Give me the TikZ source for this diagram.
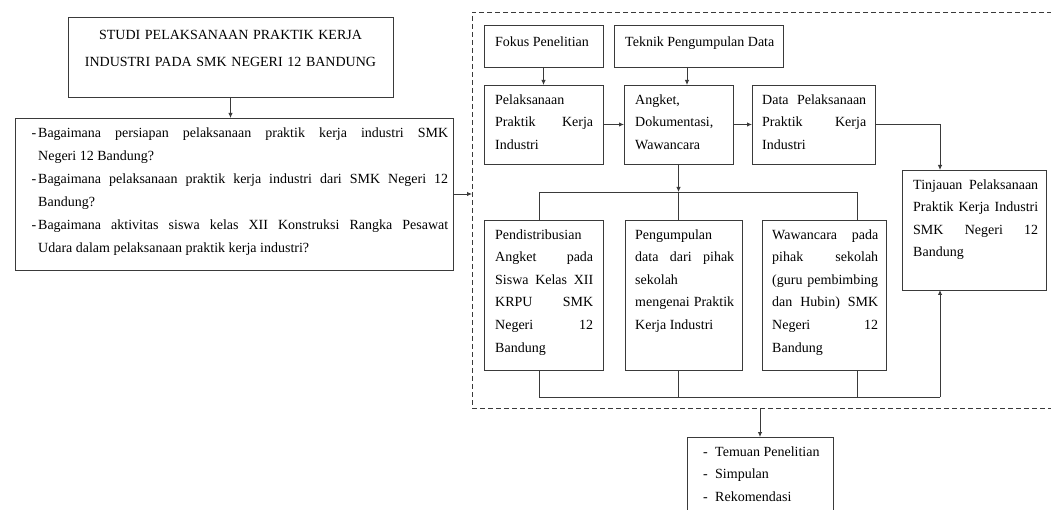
\documentclass[tikz,border=0pt]{standalone}
\usepackage{fontspec}
\setmainfont{Liberation Serif}
\usetikzlibrary{arrows.meta,calc}
\definecolor{linec}{HTML}{3A3A3A}
\hyphenpenalty=10000
\exhyphenpenalty=10000
\tolerance=10000
\hbadness=10000
\hfuzz=4pt
\setlength\parindent{0pt}
\newcommand{\itemdash}{\leavevmode\llap{-\hspace{2pt}}}
\begin{document}
\begin{tikzpicture}[x=1pt,y=-1pt,
  box/.style={draw=linec, line width=0.9pt, anchor=north west, inner sep=0pt, outer sep=0pt},
  txt/.style={anchor=north west, inner sep=0pt, align=justify, font=\fontsize{14}{22.6}\selectfont, text=black},
  lbl/.style={anchor=north west, inner sep=0pt, align=left, font=\fontsize{14}{22.6}\selectfont, text=black},
  conn/.style={draw=linec, line width=0.9pt},
  arr/.style={conn, -{Latex[length=5pt,width=4.5pt]}},
  dashedframe/.style={draw=linec, line width=0.9pt, dash pattern=on 5pt off 3pt, anchor=north west, inner sep=0pt, outer sep=0pt}
]
\useasboundingbox (0,0) rectangle (1051,510);
\clip (0,0) rectangle (1051,510);

% left column
\node[box, minimum width=325, minimum height=80] (b1) at (68,17) {};
\node[txt, anchor=north, align=center, text width=320, font=\fontsize{14}{27}\selectfont] (t1) at (230.5,20.6)
  {\strut STUDI PELAKSANAAN PRAKTIK KERJA\\ INDUSTRI PADA SMK NEGERI 12 BANDUNG};

\node[box, minimum width=438, minimum height=152] (b2) at (15,118) {};
\node[txt, text width=410, font=\fontsize{14}{23}\selectfont] (t2) at (38,121)
  {\strut\itemdash Bagaimana persiapan pelaksanaan praktik kerja industri SMK\linebreak Negeri 12 Bandung?\par
   \itemdash Bagaimana pelaksanaan praktik kerja industri dari SMK Negeri 12\linebreak Bandung?\par
   \itemdash Bagaimana aktivitas siswa kelas XII Konstruksi Rangka Pesawat\linebreak Udara dalam pelaksanaan praktik kerja industri?};

% dashed frame (open to the right)
\node[dashedframe, minimum width=620, minimum height=396] (frame) at (472,12) {};

% top row
\node[box, minimum width=119, minimum height=42] (fok) at (484,25) {};
\node[lbl] (tfok) at (495,30) {\strut Fokus Penelitian};
\node[box, minimum width=169, minimum height=42] (tek) at (614,25) {};
\node[lbl] (ttek) at (625,30) {\strut Teknik Pengumpulan Data};

% second row
\node[box, minimum width=119, minimum height=79] (pel) at (484,85) {};
\node[txt, text width=98] (tpel) at (495,88) {\strut Pelaksanaan\\ Praktik Kerja\linebreak Industri};
\node[box, minimum width=109, minimum height=79] (ang) at (624,85) {};
\node[lbl] (tang) at (635,88) {\strut Angket,\\ Dokumentasi,\\ Wawancara};
\node[box, minimum width=123, minimum height=79] (dat) at (752,85) {};
\node[txt, text width=104] (tdat) at (762,88) {\strut Data Pelaksanaan\linebreak Praktik Kerja\linebreak Industri};

\node[box, minimum width=144, minimum height=120] (tin) at (902,170) {};
\node[txt, text width=125] (ttin) at (913,173) {\strut Tinjauan Pelaksanaan\linebreak Praktik Kerja Industri\linebreak SMK Negeri 12\linebreak Bandung};

% third row
\node[box, minimum width=119, minimum height=150] (pend) at (484,220) {};
\node[txt, text width=98] (tpend) at (495,223) {\strut Pendistribusian\\ Angket pada\linebreak Siswa Kelas XII\linebreak KRPU SMK\linebreak Negeri 12\linebreak Bandung};
\node[box, minimum width=117, minimum height=150] (peng) at (625,220) {};
\node[txt, text width=99] (tpeng) at (635,223) {\strut Pengumpulan\\ data dari pihak\linebreak sekolah\\ mengenai Praktik\linebreak Kerja Industri};
\node[box, minimum width=124, minimum height=150] (waw) at (762,220) {};
\node[txt, text width=106] (twaw) at (772,223) {\strut Wawancara pada\linebreak pihak sekolah\linebreak (guru pembimbing\linebreak dan Hubin) SMK\linebreak Negeri 12\linebreak Bandung};

% result box
\node[box, minimum width=146, minimum height=90] (res) at (687,437) {};
\node[lbl] (tres) at (703,440) {\strut\makebox[12pt][l]{-}Temuan Penelitian\\ \makebox[12pt][l]{-}Simpulan\\ \makebox[12pt][l]{-}Rekomendasi};

% bus coordinates
\coordinate (busL) at (539,192);
\coordinate (busR) at (857,192);
\coordinate (botL) at (539,397);
\coordinate (botR) at (940,397);

% connectors
\draw[arr] (b1.south) -- (b1.south |- b2.north);
\draw[arr] (b2.east) -- (b2.east -| frame.west);
\draw[arr] (fok.south) -- (pel.north);
\draw[arr] ([xshift=8.5pt]ang.north |- tek.south) -- ([xshift=8.5pt]ang.north);
\draw[arr] (pel.east) -- (ang.west);
\draw[arr] (ang.east) -- (dat.west);
\draw[arr] (dat.east) -| (botR |- tin.north);
\draw[arr] (ang.south) -- (ang.south |- busL);
\draw[conn] (busL) -- (busR);
\draw[conn] (busL) -- (busL |- pend.north);
\draw[conn] (ang.south |- busL) -- (ang.south |- peng.north);
\draw[conn] (busR) -- (busR |- waw.north);
\draw[conn] (busL |- pend.south) -- (botL) -- (botR);
\draw[conn] (ang.south |- peng.south) -- (ang.south |- botL);
\draw[conn] (busR |- waw.south) -- (busR |- botL);
\draw[arr] (botR) -- (botR |- tin.south);
\draw[arr] (res.north |- frame.south) -- (res.north);
\end{tikzpicture}
\end{document}
